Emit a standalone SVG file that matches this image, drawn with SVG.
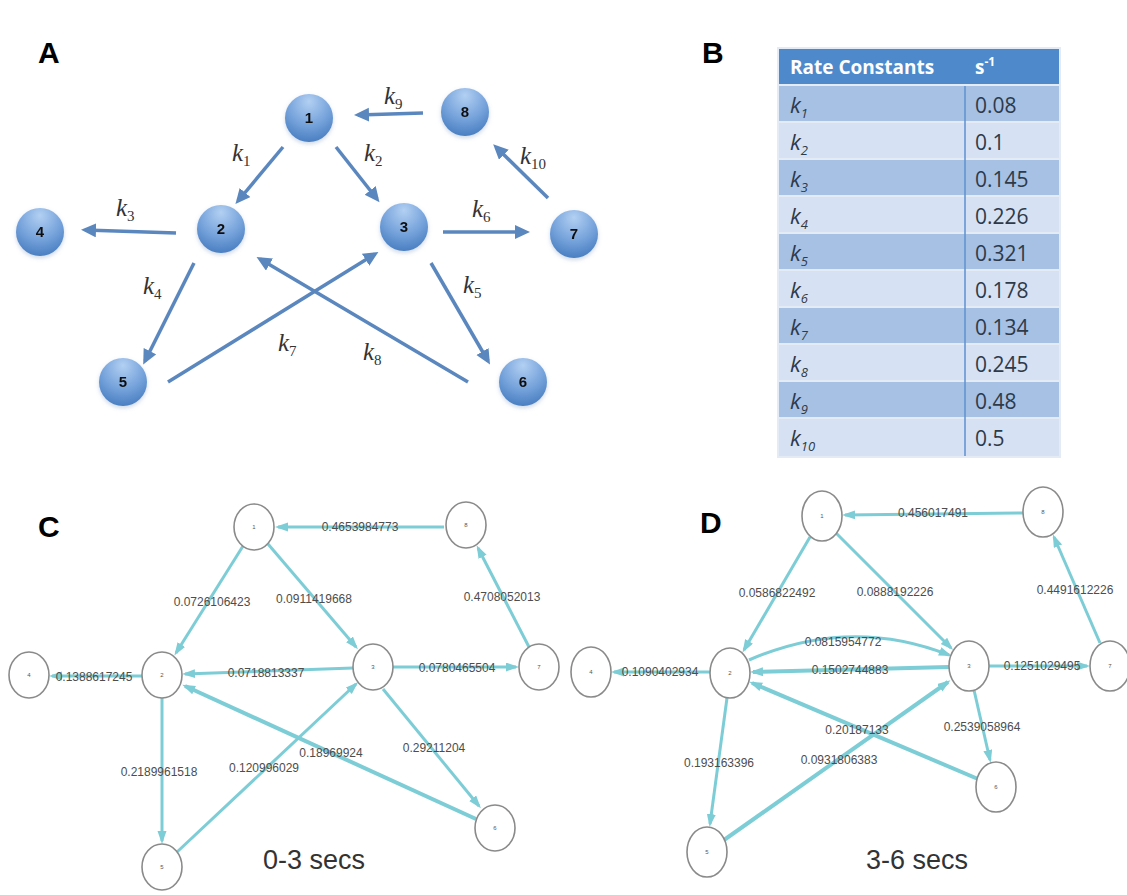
<svg xmlns="http://www.w3.org/2000/svg" width="1127" height="895" viewBox="0 0 1127 895">
  <defs>
    <radialGradient id="sphere" cx="50%" cy="25%" r="75%" fx="50%" fy="15%">
      <stop offset="0" stop-color="#b3d0f2"/>
      <stop offset="0.55" stop-color="#7aa6dd"/>
      <stop offset="1" stop-color="#4a7fc2"/>
    </radialGradient>
    <filter id="soft" x="-30%" y="-30%" width="160%" height="160%">
      <feGaussianBlur in="SourceAlpha" stdDeviation="2"/>
      <feOffset dy="2" result="b"/>
      <feFlood flood-color="#6f8fb8" flood-opacity="0.35"/>
      <feComposite in2="b" operator="in"/>
      <feMerge><feMergeNode/><feMergeNode in="SourceGraphic"/></feMerge>
    </filter>
    <marker id="headA" markerUnits="userSpaceOnUse" markerWidth="16" markerHeight="16" viewBox="0 0 16 16" refX="11" refY="7" orient="auto">
      <path d="M0,0 L15,7 L0,14 z" fill="#5b87bf"/>
    </marker>
    <marker id="headC" markerUnits="userSpaceOnUse" markerWidth="14" markerHeight="10" viewBox="0 0 14 10" refX="10" refY="4.5" orient="auto">
      <path d="M0,0 L13,4.5 L0,9 z" fill="#7dcdd6"/>
    </marker>
    <style>
      .panel { font-family: "Liberation Sans", Arial, sans-serif; font-weight: bold; font-size: 30px; fill: #000; }
      .edgeA { fill: none; stroke: #5b87bf; stroke-width: 3.5; marker-end: url(#headA); }
      .nodeA circle { fill: url(#sphere); }
      .nodeA text { font-family: "Liberation Sans", Arial, sans-serif; font-weight: bold; font-size: 15px; fill: #111; text-anchor: middle; }
      .k { font-family: "Liberation Serif", "Times New Roman", serif; font-style: italic; font-size: 25px; fill: #333; }
      .k .sub { font-size: 15px; font-style: normal; }
      .edgeC { fill: none; stroke: #7dcdd6; stroke-width: 3; marker-end: url(#headC); }
      .edgeC.thick { stroke-width: 4; }
      .nodeC ellipse { fill: #fff; stroke: #8a8a8a; stroke-width: 1.6; }
      .nodeC text { font-family: "Liberation Sans", Arial, sans-serif; font-size: 6px; fill: #555; text-anchor: middle; }
      .w { font-family: "Liberation Sans", Arial, sans-serif; font-size: 12px; fill: #4d4d4d; text-anchor: middle; }
      .time { font-family: "Liberation Sans", Arial, sans-serif; font-size: 27px; fill: #333; text-anchor: middle; }
      .th { font-family: "Open Sans", "Liberation Sans", sans-serif; font-weight: bold; font-size: 19px; fill: #fff; }
      .tk { font-family: "Open Sans", "Liberation Sans", sans-serif; font-style: italic; font-size: 22px; fill: #2e3a4a; }
      .tk .sub { font-size: 13px; }
      .tv { font-family: "Open Sans", "Liberation Sans", sans-serif; font-size: 21px; fill: #2e3a4a; }
      .rowDark { fill: #a6c1e4; }
      .rowLight { fill: #d6e2f3; }
    </style>
  </defs>

  <rect width="1127" height="895" fill="#fff"/>

  <!-- panel letters -->
  <text class="panel" x="38" y="63">A</text>
  <text class="panel" x="702" y="63">B</text>
  <text class="panel" x="38" y="537">C</text>
  <text class="panel" x="700" y="533">D</text>

  <!-- ===== Panel A: reaction scheme ===== -->
  <g id="connectors-A">
    <path class="edgeA" d="M423,113 L358,115"/>
    <path class="edgeA" d="M283,147 L238,201"/>
    <path class="edgeA" d="M336,147 L377,199"/>
    <path class="edgeA" d="M176,233 L85,230"/>
    <path class="edgeA" d="M443,232 L526,232"/>
    <path class="edgeA" d="M548,198 L496,147"/>
    <path class="edgeA" d="M194,263 L145,361"/>
    <path class="edgeA" d="M431,263 L488,361"/>
    <path class="edgeA" d="M168,382 L375,254"/>
    <path class="edgeA" d="M468,382 L260,259"/>
  </g>
  <g id="rate-labels-A">
    <text class="k" x="384" y="104">k<tspan class="sub" dy="5">9</tspan></text>
    <text class="k" x="232" y="161">k<tspan class="sub" dy="5">1</tspan></text>
    <text class="k" x="364" y="161">k<tspan class="sub" dy="5">2</tspan></text>
    <text class="k" x="116" y="216">k<tspan class="sub" dy="5">3</tspan></text>
    <text class="k" x="472" y="217">k<tspan class="sub" dy="5">6</tspan></text>
    <text class="k" x="520" y="164">k<tspan class="sub" dy="5">10</tspan></text>
    <text class="k" x="143" y="294">k<tspan class="sub" dy="5">4</tspan></text>
    <text class="k" x="463" y="293">k<tspan class="sub" dy="5">5</tspan></text>
    <text class="k" x="278" y="351">k<tspan class="sub" dy="5">7</tspan></text>
    <text class="k" x="363" y="360">k<tspan class="sub" dy="5">8</tspan></text>
  </g>
  <g id="A-node-1" class="nodeA" filter="url(#soft)"><circle cx="309" cy="118" r="24"/><text x="309" y="123">1</text></g>
  <g id="A-node-2" class="nodeA" filter="url(#soft)"><circle cx="221" cy="229" r="24"/><text x="221" y="234">2</text></g>
  <g id="A-node-3" class="nodeA" filter="url(#soft)"><circle cx="404" cy="227" r="24"/><text x="404" y="232">3</text></g>
  <g id="A-node-4" class="nodeA" filter="url(#soft)"><circle cx="40" cy="232" r="24"/><text x="40" y="237">4</text></g>
  <g id="A-node-5" class="nodeA" filter="url(#soft)"><circle cx="123" cy="382" r="24"/><text x="123" y="387">5</text></g>
  <g id="A-node-6" class="nodeA" filter="url(#soft)"><circle cx="523" cy="382" r="24"/><text x="523" y="387">6</text></g>
  <g id="A-node-7" class="nodeA" filter="url(#soft)"><circle cx="574" cy="234" r="24"/><text x="574" y="239">7</text></g>
  <g id="A-node-8" class="nodeA" filter="url(#soft)"><circle cx="465" cy="112" r="24"/><text x="465" y="117">8</text></g>

  <!-- ===== Panel B: rate constant table ===== -->
  <g id="rate-table">
    <rect x="777" y="47" width="284" height="411" fill="#e4ebf5"/>
    <rect x="779" y="49" width="280" height="35" fill="#4d89cb"/>
    <rect x="779" y="86" width="280" height="35" class="rowDark"/>
    <rect x="779" y="123" width="280" height="35" class="rowLight"/>
    <rect x="779" y="160" width="280" height="35" class="rowDark"/>
    <rect x="779" y="197" width="280" height="35" class="rowLight"/>
    <rect x="779" y="234" width="280" height="35" class="rowDark"/>
    <rect x="779" y="271" width="280" height="35" class="rowLight"/>
    <rect x="779" y="308" width="280" height="35" class="rowDark"/>
    <rect x="779" y="345" width="280" height="35" class="rowLight"/>
    <rect x="779" y="382" width="280" height="35" class="rowDark"/>
    <rect x="779" y="419" width="280" height="37" class="rowLight"/>
    <line x1="965" y1="86" x2="965" y2="456" stroke="#5c90cf" stroke-width="1.5"/>
    <text class="th" x="790" y="74">Rate Constants</text>
    <text class="th" x="975" y="74">s<tspan font-size="12" dy="-8">-1</tspan></text>
    <text class="tk" x="790" y="113">k<tspan class="sub" dy="5">1</tspan></text>
    <text class="tk" x="790" y="150">k<tspan class="sub" dy="5">2</tspan></text>
    <text class="tk" x="790" y="187">k<tspan class="sub" dy="5">3</tspan></text>
    <text class="tk" x="790" y="224">k<tspan class="sub" dy="5">4</tspan></text>
    <text class="tk" x="790" y="261">k<tspan class="sub" dy="5">5</tspan></text>
    <text class="tk" x="790" y="298">k<tspan class="sub" dy="5">6</tspan></text>
    <text class="tk" x="790" y="335">k<tspan class="sub" dy="5">7</tspan></text>
    <text class="tk" x="790" y="372">k<tspan class="sub" dy="5">8</tspan></text>
    <text class="tk" x="790" y="409">k<tspan class="sub" dy="5">9</tspan></text>
    <text class="tk" x="790" y="446">k<tspan class="sub" dy="5">10</tspan></text>
    <text class="tv" x="975" y="113">0.08</text>
    <text class="tv" x="975" y="150">0.1</text>
    <text class="tv" x="975" y="187">0.145</text>
    <text class="tv" x="975" y="224">0.226</text>
    <text class="tv" x="975" y="261">0.321</text>
    <text class="tv" x="975" y="298">0.178</text>
    <text class="tv" x="975" y="335">0.134</text>
    <text class="tv" x="975" y="372">0.245</text>
    <text class="tv" x="975" y="409">0.48</text>
    <text class="tv" x="975" y="446">0.5</text>
  </g>

  <!-- ===== Panel C: fitted network, 0-3 s ===== -->
  <g id="connectors-C">
    <path class="edgeC" d="M444,527 L278,527"/>
    <path class="edgeC" d="M243,546 L176,653"/>
    <path class="edgeC" d="M268,544 L356,647"/>
    <path class="edgeC" d="M529,647 L478,548"/>
    <path class="edgeC" d="M142,676 L52,676"/>
    <path class="edgeC" d="M353,668 L185,674"/>
    <path class="edgeC" d="M393,667 L516,667"/>
    <path class="edgeC" d="M162,698 L162,841"/>
    <path class="edgeC" d="M177,852 L356,684"/>
    <path class="edgeC thick" d="M476,819 L185,686"/>
    <path class="edgeC" d="M383,689 L479,806"/>
  </g>
  <g id="weights-C">
    <text class="w" x="360" y="531">0.4653984773</text>
    <text class="w" x="212" y="606">0.0726106423</text>
    <text class="w" x="314" y="603">0.0911419668</text>
    <text class="w" x="502" y="601">0.4708052013</text>
    <text class="w" x="94" y="681">0.1388617245</text>
    <text class="w" x="266" y="677">0.0718813337</text>
    <text class="w" x="457" y="672">0.0780465504</text>
    <text class="w" x="159" y="776">0.2189961518</text>
    <text class="w" x="264" y="772">0.120996029</text>
    <text class="w" x="331" y="757">0.18969924</text>
    <text class="w" x="434" y="752">0.29211204</text>
  </g>
  <g id="C-node-1" class="nodeC"><ellipse cx="254" cy="527" rx="20" ry="23"/><text x="254" y="529">1</text></g>
  <g id="C-node-2" class="nodeC"><ellipse cx="162" cy="675" rx="20" ry="23"/><text x="162" y="677">2</text></g>
  <g id="C-node-3" class="nodeC"><ellipse cx="373" cy="667" rx="20" ry="23"/><text x="373" y="669">3</text></g>
  <g id="C-node-4" class="nodeC"><ellipse cx="29" cy="675" rx="20" ry="23"/><text x="29" y="677">4</text></g>
  <g id="C-node-5" class="nodeC"><ellipse cx="162" cy="867" rx="20" ry="23"/><text x="162" y="869">5</text></g>
  <g id="C-node-6" class="nodeC"><ellipse cx="495" cy="828" rx="20" ry="23"/><text x="495" y="830">6</text></g>
  <g id="C-node-7" class="nodeC"><ellipse cx="539" cy="667" rx="20" ry="23"/><text x="539" y="669">7</text></g>
  <g id="C-node-8" class="nodeC"><ellipse cx="466" cy="525" rx="20" ry="23"/><text x="466" y="527">8</text></g>
  <text class="time" x="314" y="869">0-3 secs</text>

  <!-- ===== Panel D: fitted network, 3-6 s ===== -->
  <g id="connectors-D">
    <path class="edgeC" d="M1023,513 L845,515"/>
    <path class="edgeC" d="M810,537 L744,650"/>
    <path class="edgeC" d="M836,533 L951,648"/>
    <path class="edgeC" d="M1100,643 L1054,537"/>
    <path class="edgeC" d="M710,672 L614,672"/>
    <path class="edgeC" d="M749,660 Q850,616 949,655"/>
    <path class="edgeC thick" d="M949,667 L753,672"/>
    <path class="edgeC" d="M989,666 L1087,666"/>
    <path class="edgeC" d="M727,698 L710,824"/>
    <path class="edgeC thick" d="M724,840 L948,682"/>
    <path class="edgeC thick" d="M978,779 L752,683"/>
    <path class="edgeC" d="M974,690 L990,760"/>
  </g>
  <g id="weights-D">
    <text class="w" x="933" y="517">0.456017491</text>
    <text class="w" x="777" y="597">0.0586822492</text>
    <text class="w" x="895" y="596">0.0888192226</text>
    <text class="w" x="1075" y="594">0.4491612226</text>
    <text class="w" x="660" y="676">0.1090402934</text>
    <text class="w" x="843" y="646">0.0815954772</text>
    <text class="w" x="850" y="674">0.1502744883</text>
    <text class="w" x="1042" y="670">0.1251029495</text>
    <text class="w" x="719" y="767">0.193163396</text>
    <text class="w" x="839" y="764">0.0931806383</text>
    <text class="w" x="857" y="734">0.20187133</text>
    <text class="w" x="982" y="731">0.2539058964</text>
  </g>
  <g id="D-node-1" class="nodeC"><ellipse cx="822" cy="516" rx="20" ry="25"/><text x="822" y="518">1</text></g>
  <g id="D-node-2" class="nodeC"><ellipse cx="730" cy="673" rx="20" ry="25"/><text x="730" y="675">2</text></g>
  <g id="D-node-3" class="nodeC"><ellipse cx="969" cy="666" rx="20" ry="25"/><text x="969" y="668">3</text></g>
  <g id="D-node-4" class="nodeC"><ellipse cx="591" cy="672" rx="20" ry="25"/><text x="591" y="674">4</text></g>
  <g id="D-node-5" class="nodeC"><ellipse cx="707" cy="852" rx="20" ry="25"/><text x="707" y="854">5</text></g>
  <g id="D-node-6" class="nodeC"><ellipse cx="996" cy="787" rx="20" ry="25"/><text x="996" y="789">6</text></g>
  <g id="D-node-7" class="nodeC"><ellipse cx="1110" cy="666" rx="20" ry="25"/><text x="1110" y="668">7</text></g>
  <g id="D-node-8" class="nodeC"><ellipse cx="1043" cy="512" rx="20" ry="25"/><text x="1043" y="514">8</text></g>
  <text class="time" x="917" y="869">3-6 secs</text>
</svg>
